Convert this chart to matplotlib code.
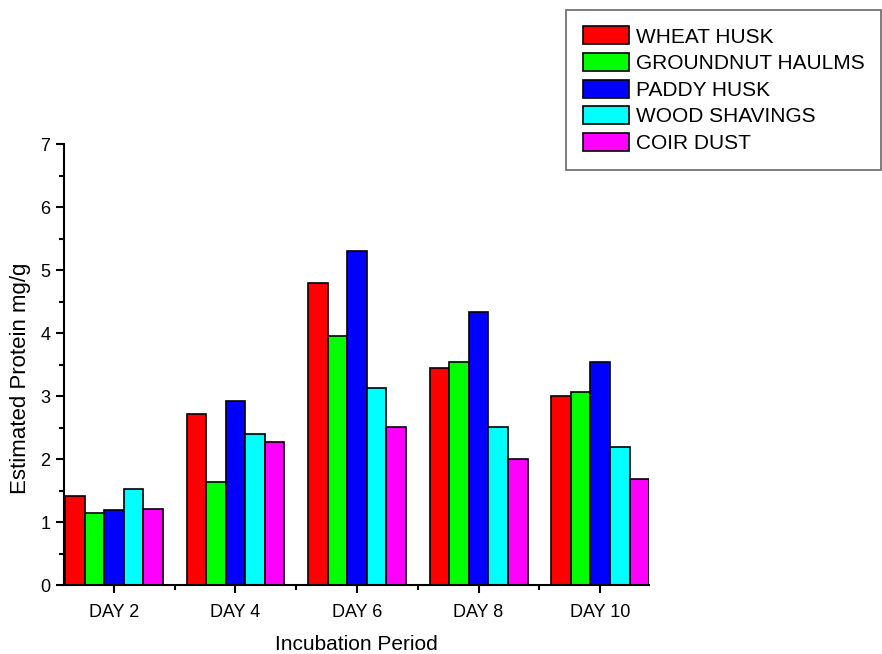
import matplotlib
matplotlib.use("Agg")
import matplotlib.pyplot as plt
from matplotlib.ticker import MultipleLocator
import numpy as np

plt.rcParams["font.family"] = ["Liberation Sans", "DejaVu Sans"]

# Incubation days and substrate series (estimated protein, mg/g)
days = ["DAY 2", "DAY 4", "DAY 6", "DAY 8", "DAY 10"]
substrates = ["WHEAT HUSK", "GROUNDNUT HAULMS", "PADDY HUSK", "WOOD SHAVINGS", "COIR DUST"]
wheat_husk = [1.42, 2.71, 4.80, 3.44, 3.00]
groundnut_haulms = [1.15, 1.63, 3.95, 3.54, 3.07]
paddy_husk = [1.19, 2.92, 5.30, 4.34, 3.54]
wood_shavings = [1.53, 2.40, 3.13, 2.51, 2.19]
coir_dust = [1.20, 2.27, 2.51, 2.00, 1.68]
colors = ["#ff0000", "#00ff00", "#0000ff", "#00ffff", "#ff00ff"]

series = [wheat_husk, groundnut_haulms, paddy_husk, wood_shavings, coir_dust]

fig = plt.figure(figsize=(8.82, 6.54), dpi=100)
ax = fig.add_axes([0.0726, 0.1055, 0.663, 0.6743])

x = np.arange(len(days))
width = 0.161
for i, (vals, name, c) in enumerate(zip(series, substrates, colors)):
    ax.bar(x + (i - 2) * width, vals, width, color=c, edgecolor="black",
           linewidth=1.2, label=name)

ax.set_xlim(-0.41, 4.4)
ax.set_ylim(0, 7)
ax.set_xticks(x)
ax.set_xticklabels(days)
ax.set_xticks(x[:-1] + 0.5, minor=True)
ax.yaxis.set_major_locator(MultipleLocator(1))
ax.yaxis.set_minor_locator(MultipleLocator(0.5))

for side in ("top", "right"):
    ax.spines[side].set_visible(False)
for side in ("left", "bottom"):
    ax.spines[side].set_linewidth(1.5)

ax.tick_params(axis="both", which="major", direction="out", length=6,
               width=1.5, labelsize=13)
ax.tick_params(axis="x", which="major", pad=8)
ax.tick_params(axis="y", which="major", pad=4)
ax.tick_params(axis="both", which="minor", direction="out", length=3.5,
               width=1.5)
ax.tick_params(axis="x", which="minor", bottom=True)

ax.set_xlabel("Incubation Period", fontsize=15, labelpad=10)
ax.set_ylabel("Estimated Protein mg/g", fontsize=16)
ax.yaxis.set_label_coords(-0.056, 0.469)

leg = fig.legend(loc="upper left", bbox_to_anchor=(0.642, 0.985),
                 fontsize=15, frameon=True, fancybox=False,
                 handlelength=2.2, handleheight=0.95, handletextpad=0.35,
                 labelspacing=0.31, borderpad=0.8, borderaxespad=0)
leg.get_frame().set_edgecolor("#404040")
leg.get_frame().set_linewidth(1.2)

fig.savefig("out.png", dpi=100)
